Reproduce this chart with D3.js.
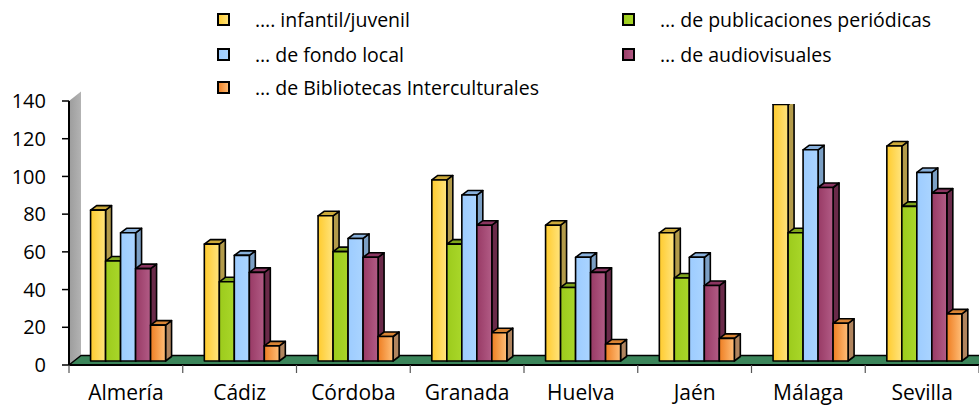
<!DOCTYPE html>
<html><head><meta charset="utf-8">
<script src="https://cdn.jsdelivr.net/npm/d3@7"></script>
<style>body{margin:0;background:#fff}svg{display:block}</style>
</head><body>
<svg id="c" width="979" height="408"></svg>
<script>
const categories = ["Almería","Cádiz","Córdoba","Granada","Huelva","Jaén","Málaga","Sevilla"];
const seriesNames = ["…. infantil/juvenil","… de publicaciones periódicas","… de fondo local","… de audiovisuales","… de Bibliotecas Interculturales"];
const infantil      = [80, 62, 77, 96, 72, 68, 136, 114];
const periodicas    = [53, 42, 58, 62, 39, 44, 68, 82];
const fondoLocal    = [68, 56, 65, 88, 55, 55, 112, 100];
const audiovisuales = [49, 47, 55, 72, 47, 40, 92, 89];
const intercult     = [19, 8, 13, 15, 9, 12, 20, 25];
const yTicks = [0,20,40,60,80,100,120,140];

const seriesValues = [infantil, periodicas, fondoLocal, audiovisuales, intercult];
const colors = [
  {a:"#FFCB2E", b:"#FFE47E", side:"#B39B4A", top:"#CDAA3A"},
  {a:"#9CCB1C", b:"#A9D72A", side:"#6F8F1B", top:"#7FA61C"},
  {a:"#9DCCFF", b:"#AAD4FF", side:"#7B9FC4", top:"#88B0DB"},
  {a:"#983A65", b:"#B25C86", side:"#6A2A49", top:"#8A3560"},
  {a:"#EE7E22", b:"#FFBE78", side:"#B0845E", top:"#D98434"}
];

const svg = d3.select("#c");
const font = "'Open Sans', sans-serif";
const left = 69, right = 979, y0 = 365, yTop = 101;
const dx = 6, dy = -4.5;
const wdx = 12, wdy = -9.5;

const y = d3.scaleLinear().domain([0,140]).range([y0, yTop]);
const x0 = d3.scaleBand().domain(categories).range([left, right]).padding(0);
const barW = 15;
const x1 = d3.scaleBand().domain(d3.range(seriesNames.length)).range([0, barW*seriesNames.length]).padding(0);
const groupOff = (x0.bandwidth() - barW*seriesNames.length)/2 + 2.2;

const defs = svg.append("defs");
colors.forEach((c,i)=>{
  const g = defs.append("linearGradient").attr("id","g"+i).attr("x1","0").attr("x2","1").attr("y1","0").attr("y2","0");
  g.append("stop").attr("offset","0").attr("stop-color",c.a);
  g.append("stop").attr("offset","1").attr("stop-color",c.b);
});
const wg = defs.append("linearGradient").attr("id","wall").attr("x1","0").attr("x2","1");
wg.append("stop").attr("offset","0").attr("stop-color","#9c9c9c");
wg.append("stop").attr("offset","1").attr("stop-color","#b3b3b3");
defs.append("clipPath").attr("id","plotclip").append("rect")
  .attr("x",0).attr("y",104).attr("width",979).attr("height",304);

svg.append("path")
  .attr("d", `M${left},${y(0)} L${left},${y(140)} L${left+wdx},${y(140)+wdy} L${left+wdx},${y(0)+wdy} Z`)
  .attr("fill","url(#wall)");

svg.append("path")
  .attr("d", `M${left},${y(0)} L${left+wdx},${y(0)+wdy} L${right+20},${y(0)+wdy} L${right+20},${y(0)} Z`)
  .attr("fill","#3B855A").attr("stroke","#000").attr("stroke-width",1.5).attr("stroke-linejoin","round");

svg.append("line").attr("x1",left).attr("x2",left).attr("y1",y(0)).attr("y2",y(140))
  .attr("stroke","#000").attr("stroke-width",2);
const yt = svg.append("g");
yTicks.forEach(t=>{
  yt.append("line").attr("x1",left-7).attr("x2",left).attr("y1",y(t)).attr("y2",y(t)).attr("stroke","#000").attr("stroke-width",1.5);
  yt.append("text").attr("x",46).attr("y",y(t)).attr("dy","0.36em").attr("text-anchor","end")
    .attr("font-family",font).attr("font-size",20).attr("fill","#000").text(t);
});

svg.append("line").attr("x1",left).attr("x2",right).attr("y1",y(0)).attr("y2",y(0)).attr("stroke","#000").attr("stroke-width",2);
const edges = categories.map(c=>x0(c)).concat([right]);
edges.forEach(e=>{
  svg.append("line").attr("x1",e).attr("x2",e).attr("y1",y(0)).attr("y2",y(0)+8).attr("stroke","#555").attr("stroke-width",1.2);
});
categories.forEach(c=>{
  svg.append("text").attr("x",x0(c)+x0.bandwidth()/2).attr("y",392.5).attr("dy","0.36em").attr("text-anchor","middle")
    .attr("font-family",font).attr("font-size",21).attr("fill","#000").text(c);
});

const bars = svg.append("g").attr("clip-path","url(#plotclip)");
categories.forEach((c,ci)=>{
  seriesValues.forEach((vals,si)=>{
    const v = vals[ci];
    const xl = x0(c) + groupOff + x1(si);
    const xr = xl + x1.bandwidth();
    const yt_ = y(v) - 4, yb = y(0) - 4;
    const g = bars.append("g").attr("stroke","#000").attr("stroke-width",1.6).attr("stroke-linejoin","round");
    g.append("path").attr("d",`M${xr},${yb} L${xr},${yt_} L${xr+dx},${yt_+dy} L${xr+dx},${yb+dy} Z`).attr("fill",colors[si].side);
    g.append("path").attr("d",`M${xl},${yt_} L${xl+dx},${yt_+dy} L${xr+dx},${yt_+dy} L${xr},${yt_} Z`).attr("fill",colors[si].top);
    g.append("rect").attr("x",xl).attr("y",yt_).attr("width",xr-xl).attr("height",yb-yt_).attr("fill",`url(#g${si})`);
  });
});

const legPos = [[218,20],[623,20],[218,55],[623,55],[218,88]];
seriesNames.forEach((n,i)=>{
  const [lx,ly] = legPos[i];
  svg.append("rect").attr("x",lx).attr("y",ly-6).attr("width",11).attr("height",11)
    .attr("fill",`url(#g${i})`).attr("stroke","#000").attr("stroke-width",2);
  svg.append("text").attr("x",lx+37).attr("y",ly).attr("dy","0.35em")
    .attr("font-family",font).attr("font-size",19.5).attr("fill","#000").text(n);
});
</script>
</body></html>
